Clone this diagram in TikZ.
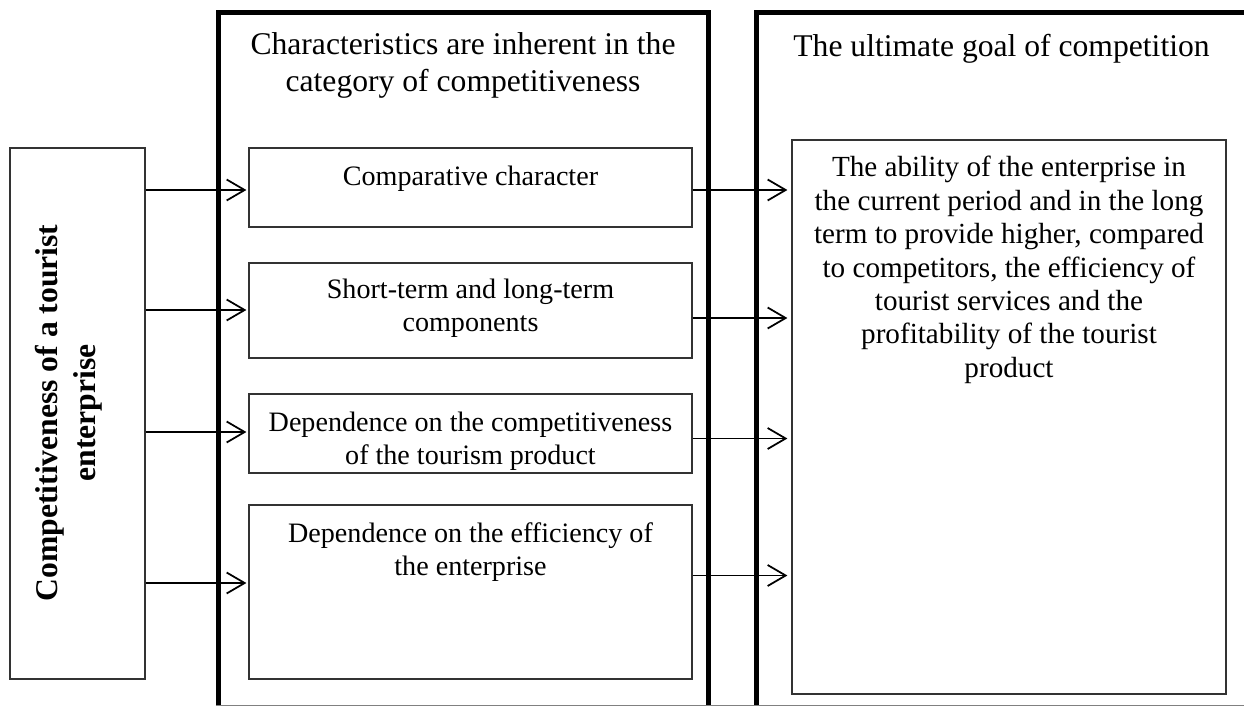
\documentclass[tikz,border=0pt]{standalone}
\usepackage{fontspec}
\setmainfont{Liberation Serif}
\usetikzlibrary{arrows.meta,calc}
\newcommand{\pxu}{0.02cm}
\tikzset{
  frame/.style={draw,line width=0.1cm,minimum width=#1*\pxu,minimum height=705*\pxu,inner sep=0pt},
  box/.style={draw=black!80,line width=0.7pt,inner sep=0pt},
  txt/.style={align=center,inner sep=0pt,font=\fontsize{16}{18.7}\selectfont},
  head/.style={align=center,inner sep=0pt,font=\fontsize{18}{21}\selectfont},
  arr/.style={line width=1pt,-{Straight Barb[length=0.36cm,width=0.42cm,line width=1pt]}}
}
\begin{document}
\begin{tikzpicture}[x=0.02cm,y=-0.02cm]
\useasboundingbox (0,0) rectangle (1244,706);
\node[frame=490] (fmid) at (463,365.5) {};
\node[frame=490] (fgoal) at (1001,365.5) {};
\draw[gray,line width=0.5pt] (fmid.west |- 0,705) -- (1244,705);
\node[head,anchor=north] (hmid) at (463,32) {Characteristics are inherent in the\\category of competitiveness};
\node[head,anchor=north] (hgoal) at (1001.5,34) {The ultimate goal of competition};
\node[box,rotate=90,minimum width=531*\pxu,minimum height=135*\pxu] (lbox) at (77.5,413.5) {};
\node[txt,rotate=90,font=\fontsize{18}{21.6}\selectfont\bfseries] (ltxt) at (69,413) {Competitiveness of a tourist\\enterprise};
\node[box,minimum width=443*\pxu,minimum height=79*\pxu] (c1) at (470.5,187.5) {};
\node[box,minimum width=443*\pxu,minimum height=95*\pxu] (c2) at (470.5,310.5) {};
\node[box,minimum width=443*\pxu,minimum height=79*\pxu] (c3) at (470.5,433.5) {};
\node[box,minimum width=443*\pxu,minimum height=174*\pxu] (c4) at (470.5,592) {};
\node[txt,anchor=north] (t1) at (470.5,166) {Comparative character};
\node[txt,anchor=north] (t2) at (470.5,279) {Short-term and long-term\\components};
\node[txt,anchor=north] (t3) at (470.5,412) {Dependence on the competitiveness\\of the tourism product};
\node[txt,anchor=north] (t4) at (470.5,522) {Dependence on the efficiency of\\the enterprise};
\node[box,minimum width=434*\pxu,minimum height=554*\pxu] (goal) at (1009,417) {};
\node[txt,anchor=north,font=\fontsize{16.6}{19}\selectfont] (gtxt) at (1009,156) {The ability of the enterprise in\\the current period and in the long\\term to provide higher, compared\\to competitors, the efficiency of\\tourist services and the\\profitability of the tourist\\product};
\foreach \i/\a/\b in {1/2.5/2.5,2/-0.5/7.5,3/-1.5/5,4/-9/-16.5}{
  \coordinate (l\i) at ($(c\i.west)+(-2,\a)$);
  \coordinate (r\i) at ($(c\i.east)+(0,\b)$);
  \draw[arr] (lbox.south |- l\i) -- (l\i);
  \draw[arr] (r\i) -- ($(goal.west |- r\i)+(-4,0)$);
}
\end{tikzpicture}
\end{document}
